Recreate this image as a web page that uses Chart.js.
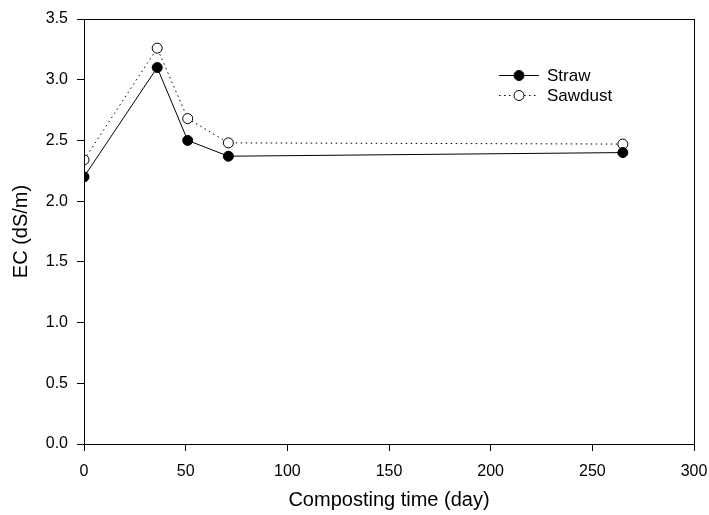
<!DOCTYPE html>
<html>
<head>
<meta charset="utf-8">
<script src="https://cdn.jsdelivr.net/npm/chart.js@4"></script>
<style>
  html, body { margin: 0; padding: 0; background: #fff; }
  #wrap { width: 709px; height: 515px; position: relative; }
</style>
</head>
<body>
<div id="wrap"><canvas id="chart"></canvas></div>
<script>
// composting days and EC readings
const days = [0, 36, 51, 71, 265];
const straw = [2.20, 3.10, 2.50, 2.37, 2.40];
const sawdust = [2.34, 3.26, 2.68, 2.48, 2.47];
const seriesNames = ['Straw', 'Sawdust'];

const FONT = "'Liberation Sans', Arial, sans-serif";

const toPoints = (ys) => days.map((d, i) => ({ x: d, y: ys[i] }));

// box round the plot area
const frame = {
  id: 'frame',
  afterDraw(chart) {
    const { ctx, chartArea: a } = chart;
    ctx.save();
    ctx.strokeStyle = '#000';
    ctx.lineWidth = 1;
    ctx.strokeRect(Math.round(a.left) + 0.5, Math.round(a.top) + 0.5,
      Math.round(a.right - a.left), Math.round(a.bottom - a.top));
    ctx.restore();
  }
};

// sigmaplot style legend: line sample with marker in the middle
const keyBox = {
  id: 'keyBox',
  afterDraw(chart) {
    const { ctx } = chart;
    const x0 = 499, x1 = 539, tx = 547;
    chart.data.datasets.forEach((ds, i) => {
      const y = 75 + i * 20;
      ctx.save();
      ctx.strokeStyle = '#000';
      ctx.lineWidth = 1;
      ctx.setLineDash(ds.borderDash || []);
      ctx.beginPath();
      ctx.moveTo(x0, y + 0.5);
      ctx.lineTo(x1, y + 0.5);
      ctx.stroke();
      ctx.setLineDash([]);
      ctx.beginPath();
      ctx.arc((x0 + x1) / 2, y + 0.5, 5, 0, Math.PI * 2);
      ctx.fillStyle = ds.pointBackgroundColor;
      ctx.fill();
      ctx.stroke();
      ctx.fillStyle = '#000';
      ctx.font = '17px ' + FONT;
      ctx.textBaseline = 'middle';
      ctx.textAlign = 'left';
      ctx.fillText(seriesNames[i], tx, y + 1);
      ctx.restore();
    });
  }
};

new Chart(document.getElementById('chart'), {
  type: 'line',
  data: {
    datasets: [
      {
        label: seriesNames[0],
        data: toPoints(straw),
        borderColor: '#000',
        borderWidth: 1,
        pointRadius: 5,
        pointBackgroundColor: '#000',
        pointBorderColor: '#000',
        pointBorderWidth: 1,
        tension: 0,
      },
      {
        label: seriesNames[1],
        data: toPoints(sawdust),
        borderColor: '#000',
        borderWidth: 1,
        borderDash: [1.5, 3.5],
        pointRadius: 5,
        pointBackgroundColor: '#fff',
        pointBorderColor: '#000',
        pointBorderWidth: 1,
        tension: 0,
      },
    ],
  },
  options: {
    responsive: true,
    maintainAspectRatio: false,
    animation: false,
    layout: { padding: { left: 0, right: 15, top: 19, bottom: 0 } },
    plugins: {
      legend: { display: false },
      tooltip: { enabled: false },
    },
    scales: {
      x: {
        type: 'linear',
        min: 0,
        max: 300,
        afterFit: (s) => { s.height = 71; s.paddingLeft = 0; s.paddingRight = 0; },
        ticks: {
          stepSize: 50,
          color: '#000',
          padding: 11,
          font: { family: FONT, size: 16 },
        },
        grid: { drawOnChartArea: false, tickLength: 7, tickColor: '#000' },
        border: { color: '#000', width: 1 },
        title: {
          display: true,
          text: 'Composting time (day)',
          color: '#000',
          font: { family: FONT, size: 20 },
          padding: { top: 0, bottom: 3 },
        },
      },
      y: {
        min: 0,
        max: 3.5,
        afterFit: (s) => { s.width = 84; s.paddingTop = 0; s.paddingBottom = 0; },
        ticks: {
          stepSize: 0.5,
          color: '#000',
          padding: 9,
          font: { family: FONT, size: 16 },
          callback: (v) => v.toFixed(1),
        },
        grid: { drawOnChartArea: false, tickLength: 7, tickColor: '#000' },
        border: { color: '#000', width: 1 },
        title: {
          display: true,
          text: 'EC (dS/m)',
          color: '#000',
          font: { family: FONT, size: 20 },
          padding: { top: 9, bottom: 0 },
        },
      },
    },
  },
  plugins: [frame, keyBox],
});
</script>
</body>
</html>
